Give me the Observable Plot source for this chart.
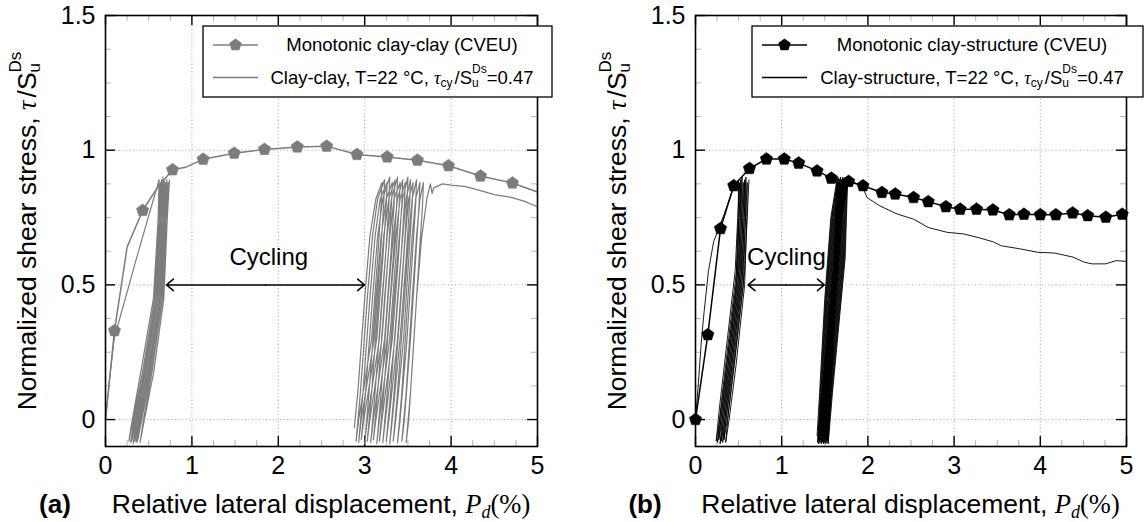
<!DOCTYPE html>
<html><head><meta charset="utf-8">
<script src="https://cdn.jsdelivr.net/npm/d3@7"></script>
<script src="https://cdn.jsdelivr.net/npm/@observablehq/plot@0.6"></script>
<style>
html,body{margin:0;padding:0;background:#fff;}
#wrap{position:relative;width:1145px;height:522px;overflow:hidden;background:#fff;}
#wrap svg{position:absolute;top:0;overflow:visible;}
</style></head>
<body><div id="wrap"></div>
<script>
// ---------- axis ticks ----------
const X_MAJOR = [0, 1, 2, 3, 4, 5];
const X_MINOR = [0.25, 0.5, 0.75, 1.25, 1.5, 1.75, 2.25, 2.5, 2.75, 3.25, 3.5, 3.75, 4.25, 4.5, 4.75];
const Y_MAJOR = [0, 0.5, 1, 1.5];
const Y_MINOR = [0.125, 0.25, 0.375, 0.625, 0.75, 0.875, 1.125, 1.25, 1.375];
const X_GRID = [1, 2, 3, 4];
const Y_GRID = [0, 0.5, 1];

// ---------- panel (a): clay-clay ----------
const monoA_x = [0, 0.104, 0.25, 0.43, 0.6, 0.776, 0.93, 1.13, 1.49, 1.84, 2.22, 2.56, 2.91, 3.26, 3.61, 3.97, 4.34, 4.71, 5.0];
const monoA_y = [0, 0.33, 0.64, 0.776, 0.86, 0.927, 0.937, 0.966, 0.989, 1.003, 1.012, 1.015, 0.984, 0.975, 0.963, 0.942, 0.904, 0.878, 0.845];
const monoA_mx = [0.104, 0.43, 0.776, 1.13, 1.49, 1.84, 2.22, 2.56, 2.91, 3.26, 3.61, 3.97, 4.34, 4.71];
const monoA_my = [0.33, 0.776, 0.927, 0.966, 0.989, 1.003, 1.012, 1.015, 0.984, 0.975, 0.963, 0.942, 0.904, 0.878];

const cycA1_x = [0,0.05,0.1,0.36,0.62,
0.61,0.57,0.43,0.32,0.27, 0.31,0.41,0.555,0.605,0.635,
0.625,0.585,0.45,0.34,0.29, 0.33,0.43,0.57,0.62,0.65,
0.64,0.6,0.465,0.355,0.305, 0.345,0.445,0.585,0.635,0.665,
0.655,0.615,0.48,0.37,0.32, 0.36,0.46,0.6,0.65,0.68,
0.67,0.63,0.5,0.39,0.34, 0.38,0.48,0.615,0.665,0.695,
0.685,0.645,0.515,0.405,0.355, 0.395,0.495,0.63,0.68,0.71,
0.7,0.66,0.53,0.42,0.37, 0.41,0.51,0.645,0.695,0.725,
0.715,0.675,0.56,0.45,0.40, 0.44,0.54,0.66,0.71,0.74];
const cycA1_y = [0,0.16,0.3,0.6,0.89,
0.75,0.45,0.18,0,-0.08, 0,0.18,0.45,0.72,0.88,
0.75,0.45,0.18,0,-0.085, 0,0.18,0.45,0.72,0.89,
0.75,0.45,0.18,0,-0.08, 0,0.18,0.45,0.72,0.9,
0.75,0.45,0.18,0,-0.09, 0,0.18,0.45,0.72,0.885,
0.75,0.45,0.18,0,-0.08, 0,0.18,0.45,0.72,0.88,
0.75,0.45,0.18,0,-0.085, 0,0.18,0.45,0.72,0.89,
0.75,0.45,0.18,0,-0.08, 0,0.18,0.45,0.72,0.88,
0.75,0.45,0.18,0,-0.085, 0,0.18,0.45,0.72,0.89];

const cycA2_x = [2.88,2.92,3.0,3.06,3.13,3.2,
3.19,3.15,3.08,2.93,2.9, 2.95,3.03,3.09,3.15,3.23,
3.22,3.18,3.11,2.96,2.93, 2.98,3.06,3.12,3.18,3.26,
3.25,3.21,3.14,2.99,2.96, 3.01,3.09,3.15,3.21,3.29,
3.28,3.24,3.17,3.03,3.0, 3.05,3.13,3.19,3.25,3.32,
3.31,3.27,3.2,3.06,3.03, 3.08,3.16,3.22,3.28,3.35,
3.34,3.3,3.23,3.1,3.07, 3.12,3.2,3.26,3.31,3.38,
3.37,3.33,3.26,3.13,3.1, 3.15,3.23,3.29,3.34,3.41,
3.4,3.36,3.29,3.17,3.14, 3.19,3.27,3.33,3.38,3.44,
3.43,3.39,3.32,3.2,3.17, 3.22,3.3,3.36,3.41,3.47,
3.46,3.42,3.35,3.24,3.21, 3.26,3.34,3.4,3.44,3.5,
3.49,3.45,3.38,3.28,3.25, 3.3,3.38,3.44,3.48,3.53,
3.52,3.48,3.41,3.32,3.29, 3.34,3.42,3.47,3.51,3.56,
3.55,3.51,3.45,3.36,3.33, 3.38,3.46,3.51,3.55,3.6,
3.59,3.55,3.49,3.41,3.38, 3.43,3.5,3.55,3.59,3.64,
3.63,3.59,3.53,3.46,3.43, 3.48,3.55,3.6,3.64,3.68,
3.67,3.63,3.57,3.51,3.48, 3.53,3.6,3.66,3.72,3.76,
3.78,3.8,3.9,4.0,4.17,4.34,4.5,4.71,4.85,5.0];
const cycA2_y = [-0.03,0.1,0.45,0.68,0.82,0.88,
0.8,0.6,0.3,0,-0.08, 0.1,0.45,0.68,0.82,0.89,
0.8,0.6,0.3,0,-0.085, 0.1,0.45,0.68,0.82,0.88,
0.8,0.6,0.3,0,-0.075, 0.1,0.45,0.68,0.82,0.9,
0.8,0.6,0.3,0,-0.09, 0.1,0.45,0.68,0.82,0.88,
0.8,0.6,0.3,0,-0.08, 0.1,0.45,0.68,0.82,0.89,
0.8,0.6,0.3,0,-0.085, 0.1,0.45,0.68,0.82,0.9,
0.8,0.6,0.3,0,-0.075, 0.1,0.45,0.68,0.82,0.88,
0.8,0.6,0.3,0,-0.09, 0.1,0.45,0.68,0.82,0.89,
0.8,0.6,0.3,0,-0.08, 0.1,0.45,0.68,0.82,0.88,
0.8,0.6,0.3,0,-0.085, 0.1,0.45,0.68,0.82,0.9,
0.8,0.6,0.3,0,-0.08, 0.1,0.45,0.68,0.82,0.89,
0.8,0.6,0.3,0,-0.09, 0.1,0.45,0.68,0.82,0.88,
0.8,0.6,0.3,0,-0.08, 0.1,0.45,0.68,0.82,0.89,
0.8,0.6,0.3,0,-0.085, 0.1,0.45,0.68,0.82,0.88,
0.8,0.6,0.3,0,-0.08, 0.1,0.45,0.68,0.82,0.88,
0.8,0.6,0.3,0,-0.085, 0.1,0.45,0.68,0.82,0.875,
0.84,0.86,0.875,0.87,0.865,0.85,0.835,0.824,0.81,0.79];

const arrowA = [0.706, 2.998];
const cyclingA = [1.89, 0.602];

// ---------- panel (b): clay-structure ----------
const monoB_x = [0, 0.143, 0.29, 0.444, 0.626, 0.823, 1.03, 1.197, 1.41, 1.576, 1.777, 1.943, 2.163, 2.317, 2.53, 2.70, 2.905, 3.07, 3.26, 3.45, 3.64, 3.81, 4.0, 4.18, 4.375, 4.55, 4.76, 4.95, 5.0];
const monoB_y = [0, 0.315, 0.709, 0.868, 0.932, 0.967, 0.967, 0.952, 0.923, 0.896, 0.884, 0.868, 0.843, 0.837, 0.824, 0.809, 0.79, 0.781, 0.781, 0.778, 0.76, 0.762, 0.76, 0.76, 0.767, 0.757, 0.751, 0.762, 0.762];
const monoB_mx = [0, 0.143, 0.29, 0.444, 0.626, 0.823, 1.03, 1.197, 1.41, 1.576, 1.777, 1.943, 2.163, 2.317, 2.53, 2.70, 2.905, 3.07, 3.26, 3.45, 3.64, 3.81, 4.0, 4.18, 4.375, 4.55, 4.76, 4.95];
const monoB_my = [0, 0.315, 0.709, 0.868, 0.932, 0.967, 0.967, 0.952, 0.923, 0.896, 0.884, 0.868, 0.843, 0.837, 0.824, 0.809, 0.79, 0.781, 0.781, 0.778, 0.76, 0.762, 0.76, 0.76, 0.767, 0.757, 0.751, 0.762];

const cycB1_x = [0,0.03,0.07,0.1,0.15,0.21,0.33,0.45,0.5,
0.495,0.47,0.36,0.28,0.24, 0.28,0.37,0.46,0.49,0.51,
0.505,0.48,0.375,0.295,0.255, 0.295,0.385,0.475,0.505,0.525,
0.52,0.495,0.39,0.31,0.27, 0.31,0.4,0.49,0.52,0.54,
0.535,0.51,0.405,0.325,0.285, 0.325,0.415,0.505,0.535,0.555,
0.55,0.525,0.42,0.34,0.3, 0.34,0.43,0.52,0.55,0.57,
0.565,0.54,0.435,0.355,0.315, 0.355,0.445,0.535,0.565,0.585,
0.58,0.555,0.45,0.37,0.33, 0.37,0.46,0.55,0.58,0.6,
0.595,0.57,0.47,0.39,0.35, 0.39,0.48,0.57,0.6,0.62];
const cycB1_y = [0,0.12,0.3,0.4,0.55,0.66,0.76,0.87,0.89,
0.75,0.5,0.2,0,-0.08, 0.05,0.3,0.55,0.75,0.88,
0.75,0.5,0.2,0,-0.085, 0.05,0.3,0.55,0.75,0.89,
0.75,0.5,0.2,0,-0.075, 0.05,0.3,0.55,0.75,0.9,
0.75,0.5,0.2,0,-0.09, 0.05,0.3,0.55,0.75,0.88,
0.75,0.5,0.2,0,-0.08, 0.05,0.3,0.55,0.75,0.89,
0.75,0.5,0.2,0,-0.085, 0.05,0.3,0.55,0.75,0.9,
0.75,0.5,0.2,0,-0.075, 0.05,0.3,0.55,0.75,0.88,
0.75,0.5,0.2,0,-0.085, 0.05,0.3,0.55,0.75,0.89];

const cycB2_x = [
1.41,1.44,1.5,1.57,1.64,1.61,1.467,
1.417,1.447,1.507,1.577,1.647,1.617,1.474,
1.424,1.454,1.514,1.584,1.654,1.624,1.48,
1.43,1.46,1.52,1.59,1.661,1.631,1.487,
1.437,1.467,1.527,1.597,1.668,1.638,1.494,
1.444,1.474,1.534,1.604,1.675,1.645,1.501,
1.451,1.481,1.541,1.611,1.682,1.652,1.508,
1.458,1.488,1.548,1.618,1.689,1.659,1.514,
1.464,1.494,1.554,1.624,1.696,1.666,1.521,
1.471,1.501,1.561,1.631,1.703,1.673,1.528,
1.478,1.508,1.568,1.638,1.71,1.68,1.535,
1.485,1.515,1.575,1.645,1.717,1.687,1.542,
1.492,1.522,1.582,1.652,1.724,1.694,1.548,
1.498,1.528,1.588,1.658,1.731,1.701,1.555,
1.505,1.535,1.595,1.665,1.738,1.708,1.562,
1.512,1.542,1.602,1.672,1.745,1.715,1.569,
1.519,1.549,1.609,1.679,1.752,1.722,1.576,
1.526,1.556,1.616,1.686,1.759,1.729,1.582,
1.532,1.562,1.622,1.692,1.766,1.736,1.589,
1.539,1.569,1.629,1.699,1.775,
1.8,1.88,1.94,1.99,2.14,2.34,2.53,2.7,2.92,3.11,3.3,3.45,3.55,3.76,3.97,4.17,4.38,4.51,4.6,4.76,4.88,5.0];
const cycB2_y = [
-0.06,0.1,0.45,0.75,0.89,0.6,0.1,
-0.085,0.1,0.45,0.75,0.88,0.6,0.1,
-0.075,0.1,0.45,0.75,0.9,0.6,0.1,
-0.09,0.1,0.45,0.75,0.885,0.6,0.1,
-0.08,0.1,0.45,0.75,0.89,0.6,0.1,
-0.085,0.1,0.45,0.75,0.88,0.6,0.1,
-0.075,0.1,0.45,0.75,0.9,0.6,0.1,
-0.09,0.1,0.45,0.75,0.885,0.6,0.1,
-0.08,0.1,0.45,0.75,0.89,0.6,0.1,
-0.085,0.1,0.45,0.75,0.88,0.6,0.1,
-0.075,0.1,0.45,0.75,0.9,0.6,0.1,
-0.09,0.1,0.45,0.75,0.885,0.6,0.1,
-0.08,0.1,0.45,0.75,0.89,0.6,0.1,
-0.085,0.1,0.45,0.75,0.88,0.6,0.1,
-0.075,0.1,0.45,0.75,0.9,0.6,0.1,
-0.09,0.1,0.45,0.75,0.885,0.6,0.1,
-0.08,0.1,0.45,0.75,0.89,0.6,0.1,
-0.085,0.1,0.45,0.75,0.88,0.6,0.1,
-0.075,0.1,0.45,0.75,0.9,0.6,0.1,
-0.09,0.1,0.45,0.75,0.89,
0.885,0.875,0.862,0.824,0.793,0.763,0.744,0.713,0.695,0.689,0.674,0.66,0.645,0.634,0.621,0.618,0.603,0.584,0.578,0.578,0.59,0.587];

const arrowB = [0.61, 1.495];
const cyclingB = [1.055, 0.602];
const ARROW_Y = 0.5;

// ---------- legend texts ----------
const legendA = ["Monotonic clay-clay (CVEU)", "Clay-clay, T=22 °C, "];
const legendB = ["Monotonic clay-structure (CVEU)", "Clay-structure, T=22 °C, "];

// ---------- rendering ----------
const FONT = "'Liberation Sans', Arial, Helvetica, sans-serif";
const SERIF = "'Liberation Serif', 'DejaVu Serif', serif";
const HEIGHT = 522, MT = 15, MB = 76;

const pentagon = {
  draw(context, size) {
    const R = Math.sqrt(size / Math.PI);
    for (let i = 0; i < 5; i++) {
      const a = -Math.PI / 2 + i * 2 * Math.PI / 5;
      const px = R * Math.cos(a), py = R * Math.sin(a);
      if (i === 0) context.moveTo(px, py); else context.lineTo(px, py);
    }
    context.closePath();
  }
};

function zipXY(xs, ys, extra = {}) {
  const n = Math.min(xs.length, ys.length);
  if (xs.length !== ys.length) console.warn("length mismatch", xs.length, ys.length);
  const out = [];
  for (let i = 0; i < n; i++) out.push({x: xs[i], y: ys[i], ...extra});
  return out;
}

function makePanel(cfg) {
  const W = cfg.width - cfg.marginLeft - cfg.marginRight;
  const H = HEIGHT - MT - MB;
  const cyc = cfg.cyclic.flatMap((s, i) => zipXY(s[0], s[1], {seg: i}));
  const mono = zipXY(cfg.mono[0], cfg.mono[1]);
  const marks = zipXY(cfg.markers[0], cfg.markers[1]);
  const mid = (cfg.arrow[0] + cfg.arrow[1]) / 2;
  const arrows = [{x1: mid, x2: cfg.arrow[0]}, {x1: mid, x2: cfg.arrow[1]}];
  const grid = {stroke: "#9a9a9a", strokeOpacity: 1, strokeDasharray: "1,2.5", strokeWidth: 0.9};
  const minor = {stroke: "#b5b5b5", strokeWidth: 1};
  const major = {stroke: "black", strokeWidth: 1.4};
  const svg = Plot.plot({
    width: cfg.width, height: HEIGHT,
    marginLeft: cfg.marginLeft, marginRight: cfg.marginRight, marginTop: MT, marginBottom: MB,
    x: {domain: [0, 5]},
    y: {domain: [-0.1, 1.5]},
    style: {fontFamily: FONT, fontSize: "25px", color: "black", background: "transparent", overflow: "visible"},
    marks: [
      Plot.gridX(X_GRID, grid),
      Plot.gridY(Y_GRID, grid),
      Plot.tickX(X_MINOR, {x: d => d, ...minor, insetTop: H - 6}),
      Plot.tickX(X_MINOR, {x: d => d, ...minor, insetBottom: H - 6}),
      Plot.tickY(Y_MINOR, {y: d => d, ...minor, insetRight: W - 6}),
      Plot.tickY(Y_MINOR, {y: d => d, ...minor, insetLeft: W - 6}),
      Plot.tickX(X_MAJOR, {x: d => d, ...major, insetTop: H - 10}),
      Plot.tickX(X_MAJOR, {x: d => d, ...major, insetBottom: H - 10}),
      Plot.tickY(Y_MAJOR, {y: d => d, ...major, insetRight: W - 10}),
      Plot.tickY(Y_MAJOR, {y: d => d, ...major, insetLeft: W - 10}),
      Plot.line(cyc, {x: "x", y: "y", z: "seg", stroke: cfg.color, strokeWidth: cfg.cycWidth, strokeLinejoin: "round"}),
      Plot.line(mono, {x: "x", y: "y", stroke: cfg.color, strokeWidth: 1.5, strokeLinejoin: "round"}),
      Plot.dot(marks, {x: "x", y: "y", symbol: pentagon, r: 6.5, fill: cfg.color, stroke: cfg.color, strokeWidth: 0.5}),
      Plot.arrow(arrows, {x1: "x1", x2: "x2", y1: () => ARROW_Y, y2: () => ARROW_Y, stroke: "black", strokeWidth: 1.5, headLength: 9, headAngle: 80}),
      Plot.text([{x: cfg.cycling[0], y: cfg.cycling[1]}], {x: "x", y: "y", text: () => "Cycling", fontSize: 24, fill: "black", fontFamily: FONT}),
      Plot.frame({stroke: "black", strokeWidth: 1.6}),
      Plot.axisX(X_MAJOR, {tickSize: 0, tickPadding: 10, tickFormat: d => String(d), fontSize: 25, label: null}),
      Plot.axisY(Y_MAJOR, {tickSize: 0, tickPadding: 10, tickFormat: d => String(d), fontSize: 25, label: null})
    ]
  });
  svg.style.left = cfg.left + "px";
  document.getElementById("wrap").appendChild(svg);
  const s = d3.select(svg);
  const fl = cfg.marginLeft, fr = cfg.width - cfg.marginRight;

  // x axis label
  const xl = s.append("text").attr("x", (fl + fr) / 2).attr("y", 513)
    .attr("text-anchor", "middle").attr("font-family", FONT).attr("font-size", 26.5).attr("fill", "black");
  xl.append("tspan").text("Relative lateral displacement, ");
  xl.append("tspan").attr("font-family", SERIF).attr("font-style", "italic").text("P");
  xl.append("tspan").attr("font-family", SERIF).attr("font-style", "italic").attr("font-size", 18).attr("dy", 5).text("d");
  xl.append("tspan").attr("font-family", SERIF).attr("dy", -5).text("(%)");
  // panel letter
  s.append("text").attr("x", fl - 50).attr("y", 513).attr("font-family", FONT).attr("font-size", 26)
    .attr("font-weight", "bold").attr("fill", "black").text(cfg.letter);

  // y axis label
  const yl = s.append("text").attr("transform", `translate(${fl - 69.5},231) rotate(-90)`)
    .attr("text-anchor", "middle").attr("font-family", FONT).attr("font-size", 26.5).attr("fill", "black");
  yl.append("tspan").text("Normalized shear stress, ");
  yl.append("tspan").attr("font-family", SERIF).attr("font-style", "italic").text("τ");
  yl.append("tspan").attr("dx", 3).text("/S");
  yl.append("tspan").attr("font-size", 17).attr("dy", 4).text("u");
  yl.append("tspan").attr("font-size", 17).attr("dx", -9.5).attr("dy", -19).text("Ds");

  // legend
  const L = cfg.legend;
  const g = s.append("g");
  g.append("rect").attr("x", L.x0).attr("y", 26).attr("width", L.x1 - L.x0).attr("height", 71)
    .attr("fill", "white").attr("stroke", "black").attr("stroke-width", 1.3);
  const sx0 = L.x0 + 10, sx1 = L.x0 + 55;
  g.append("line").attr("x1", sx0).attr("x2", sx1).attr("y1", 45).attr("y2", 45).attr("stroke", cfg.color).attr("stroke-width", 1.5);
  g.append("path").attr("transform", `translate(${(sx0 + sx1) / 2},45)`)
    .attr("d", d3.symbol(pentagon, Math.PI * 6.5 * 6.5)()).attr("fill", cfg.color);
  g.append("line").attr("x1", sx0).attr("x2", sx1).attr("y1", 77.5).attr("y2", 77.5).attr("stroke", cfg.color).attr("stroke-width", 1.3);
  g.append("text").attr("x", L.cx).attr("y", 51).attr("text-anchor", "middle").attr("font-family", FONT)
    .attr("font-size", 18.5).attr("fill", "black").text(L.text[0]);
  const t2 = g.append("text").attr("x", L.cx).attr("y", 84).attr("text-anchor", "middle").attr("font-family", FONT)
    .attr("font-size", 18.5).attr("fill", "black");
  t2.append("tspan").text(L.text[1]);
  t2.append("tspan").attr("font-family", SERIF).attr("font-style", "italic").text("τ");
  t2.append("tspan").attr("font-size", 12).attr("dy", 3).text("cy");
  t2.append("tspan").attr("dx", 2).attr("dy", -3).text("/S");
  t2.append("tspan").attr("font-size", 12).attr("dy", 2.5).text("u");
  t2.append("tspan").attr("font-size", 12).attr("dx", -6.7).attr("dy", -13.5).text("Ds");
  t2.append("tspan").attr("dy", 11).text("=0.47");
}

makePanel({
  left: 0, width: 572, marginLeft: 105, marginRight: 35, color: "#7c7c7c", letter: "(a)", cycWidth: 1.2,
  cyclic: [[cycA1_x, cycA1_y], [cycA2_x, cycA2_y]],
  mono: [monoA_x, monoA_y], markers: [monoA_mx, monoA_my],
  arrow: arrowA, cycling: cyclingA,
  legend: {x0: 203, x1: 552, cx: 402, text: legendA}
});
makePanel({
  left: 572, width: 573, marginLeft: 123, marginRight: 19, color: "black", letter: "(b)", cycWidth: 0.9,
  cyclic: [[cycB1_x, cycB1_y], [cycB2_x, cycB2_y]],
  mono: [monoB_x, monoB_y], markers: [monoB_mx, monoB_my],
  arrow: arrowB, cycling: cyclingB,
  legend: {x0: 180, x1: 571, cx: 400, text: legendB}
});
</script>
</body></html>
